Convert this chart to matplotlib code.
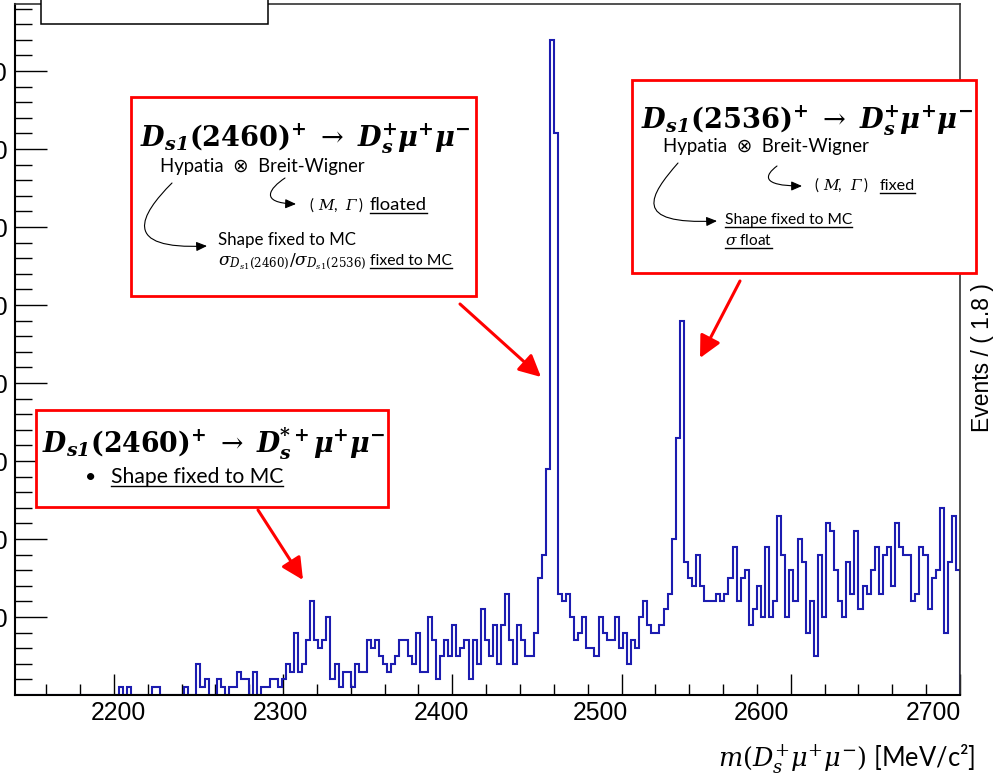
import numpy as np
import matplotlib
matplotlib.use("Agg")
import matplotlib.pyplot as plt
from matplotlib.patches import Rectangle, FancyArrowPatch
from matplotlib.lines import Line2D
from matplotlib.path import Path
from matplotlib.transforms import ScaledTranslation

W, H = 993, 778

plt.rcParams['mathtext.fontset'] = 'custom'
plt.rcParams['mathtext.rm'] = 'DejaVu Serif'
plt.rcParams['mathtext.it'] = 'DejaVu Serif:italic'
plt.rcParams['mathtext.bf'] = 'DejaVu Serif:italic:bold'
plt.rcParams['mathtext.sf'] = 'DejaVu Serif:bold'

# ---------------- data ----------------
bin_start = 2100.0
bin_width = 2.4
counts = [
    0, 0, 0, 0, 0, 0, 0, 0, 0, 0,
    0, 0, 0, 0, 0, 0, 0, 0, 0, 0,
    0, 0, 0, 0, 0, 0, 0, 0, 0, 0,
    0, 0, 0, 0, 0, 0, 0, 0, 0, 0,
    0, 0, 0, 1, 0, 1, 0, 0, 0, 0,
    0, 1, 1, 0, 0, 0, 0, 0, 0, 1,
    0, 0, 4, 1, 2, 0, 0, 2, 1, 0,
    1, 1, 3, 2, 2, 0, 3, 0, 1, 1,
    2, 2, 1, 2, 4, 3, 8, 3, 4, 7,
    12, 7, 6, 7, 10, 2, 4, 1, 3, 3,
    1, 4, 3, 3, 7, 6, 7, 5, 4, 3,
    4, 5, 7, 7, 5, 4, 8, 3, 3, 10,
    7, 2, 5, 7, 5, 9, 5, 6, 7, 2,
    7, 4, 11, 7, 5, 9, 4, 9, 13, 7,
    4, 9, 7, 5, 5, 8, 15, 18, 29, 84,
    72, 13, 12, 13, 10, 7, 8, 10, 6, 6,
    5, 10, 8, 7, 7, 10, 6, 8, 4, 7,
    6, 10, 12, 9, 8, 8, 9, 11, 13, 20,
    33, 48, 17, 15, 14, 18, 14, 12, 12, 12,
    13, 12, 13, 15, 19, 12, 15, 16, 9, 11,
    14, 10, 19, 10, 12, 23, 18, 10, 16, 12,
    20, 17, 8, 12, 5, 18, 10, 22, 21, 16,
    12, 10, 17, 13, 21, 11, 14, 13, 16, 19,
    13, 18, 19, 14, 22, 19, 18, 18, 12, 13,
    19, 18, 11, 15, 16, 24, 8, 17, 23, 16,
]
x_range = (2141.6, 2700.0)
y_range = (0.0, 88.6)
x_major = [2200, 2300, 2400, 2500, 2600, 2700]
x_labels = ["2200", "2300", "2400", "2500", "2600", "2700"]
y_major = [10, 20, 30, 40, 50, 60, 70, 80]
y_labels = ["10", "20", "30", "40", "50", "60", "70", "80"]
y_title = "Events / ( 1.8 )"
x_title = r"$m(D_s^{+}\mu^{+}\mu^{-})$ [MeV/c²]"

edges = bin_start + bin_width * np.arange(len(counts) + 1)

# ---------------- figure ----------------
fig = plt.figure(figsize=(W / 100, H / 100), dpi=100)
fig.patch.set_facecolor("white")

def fx(x):
    return x / W

def fy(y):
    return 1 - y / H

ax = fig.add_axes([fx(15), fy(695), (960 - 15) / W, (695 - 4) / H])
ax.stairs(counts, edges, color="#1c1cb0", linewidth=1.5, zorder=2)
ax.set_xlim(*x_range)
ax.set_ylim(*y_range)

ax.set_xticks(x_major)
ax.set_xticklabels([])
ax.set_xticks(np.arange(2160, 2701, 20), minor=True)
ax.set_yticks(y_major)
ax.set_yticklabels(y_labels, family="Liberation Sans", fontsize=17.8)
ax.set_yticks(np.arange(2, 89, 2), minor=True)

ax.tick_params(axis="x", which="major", direction="in", length=15, width=1.0, top=False)
ax.tick_params(axis="x", which="minor", direction="in", length=8, width=1.0, top=False)
ax.tick_params(axis="y", which="major", direction="in", length=23, width=1.0, right=False, pad=5)
ax.tick_params(axis="y", which="minor", direction="in", length=12, width=1.0, right=False)

for s in ["left", "bottom"]:
    ax.spines[s].set_linewidth(1.5)
    ax.spines[s].set_color("black")
for s in ["top", "right"]:
    ax.spines[s].set_linewidth(1.2)
    ax.spines[s].set_color("#333333")

# x tick labels (placed with their visual offsets)
label_dx = [5, -3, -11, -21, -29, -27]
for v, lab, dx in zip(x_major, x_labels, label_dx):
    ax.text(v, 0, lab, transform=ax.get_xaxis_transform()
            + ScaledTranslation(dx / 100, -6 / 100, fig.dpi_scale_trans),
            ha="center", va="top", family="Liberation Sans", fontsize=17.8)

fig.text(fx(983), fy(358), y_title, rotation=90, ha="center", va="center",
         family="Liberation Sans", fontsize=16.5)

renderer = fig.canvas.get_renderer()
BOX_FONT = ["Lato", "DejaVu Sans"]

def put(s, x, y, width=None, size=14, family=BOX_FONT, ha="left", **kw):
    t = fig.text(fx(x), fy(y), s, fontsize=size, ha=ha, va="baseline",
                 family=list(family), zorder=7, **kw)
    if width is not None:
        bb = t.get_window_extent(renderer)
        t.set_fontsize(size * width / bb.width)
    return t

def put_seq(pieces, x, y, size):
    """pieces: list of (text, family, style); placed one after another."""
    cur = x
    for s, fam, style in pieces:
        t = fig.text(fx(cur), fy(y), s, fontsize=size, ha="left", va="baseline",
                     family=fam, style=style, zorder=7)
        bb = t.get_window_extent(renderer)
        cur = bb.x1
    return cur

def underline(t, y, lw=1.0, off=3):
    bb = t.get_window_extent(renderer)
    fig.add_artist(Line2D([bb.x0 / W, bb.x1 / W], [fy(y + off)] * 2,
                          transform=fig.transFigure, color="black", lw=lw, zorder=7))

def box(x0, y0, x1, y1, ec="red", lw=2.0):
    fig.add_artist(Rectangle((fx(x0), fy(y1)), (x1 - x0) / W, (y1 - y0) / H,
                             transform=fig.transFigure, fc="white", ec=ec, lw=lw, zorder=5))

def red_arrow(x0, y0, x1, y1):
    fig.add_artist(FancyArrowPatch((fx(x0), fy(y0)), (fx(x1), fy(y1)),
                                   transform=fig.transFigure,
                                   arrowstyle="-|>,head_length=1.1,head_width=0.55",
                                   mutation_scale=12, color="red", lw=2.2,
                                   shrinkA=0, shrinkB=0, zorder=6))

def curve_arrow(pts):
    verts = [(fx(x), fy(y)) for x, y in pts]
    p = Path(verts, [Path.MOVETO, Path.CURVE4, Path.CURVE4, Path.CURVE4])
    fig.add_artist(FancyArrowPatch(path=p, transform=fig.transFigure,
                                   arrowstyle="-|>,head_length=0.8,head_width=0.35",
                                   mutation_scale=8, color="black", lw=0.8, zorder=7))

def mgamma(x, y, size):
    serif_it = ["DejaVu Serif"]
    return put_seq([("( ", BOX_FONT, "normal"), ("M", serif_it, "italic"),
                    (",  ", BOX_FONT, "normal"), ("Γ", serif_it, "italic"),
                    (" )", BOX_FONT, "normal")], x, y, size)

# legend box at top-left (cropped)
box(41, -10, 268, 24, ec="black", lw=1.1)

title_a = (r"$\mathbf{D}_{\mathbf{s1}}\mathsf{(2460)}^{\mathsf{+}}\ \rightarrow\ "
           r"\mathbf{D}_{\mathbf{s}}^{\mathbf{+}}\mathbf{\mu}^{\mathbf{+}}\mathbf{\mu}^{\mathbf{-}}$")
title_b = (r"$\mathbf{D}_{\mathbf{s1}}\mathsf{(2536)}^{\mathsf{+}}\ \rightarrow\ "
           r"\mathbf{D}_{\mathbf{s}}^{\mathbf{+}}\mathbf{\mu}^{\mathbf{+}}\mathbf{\mu}^{\mathbf{-}}$")
title_c = (r"$\mathbf{D}_{\mathbf{s1}}\mathsf{(2460)}^{\mathsf{+}}\ \rightarrow\ "
           r"\mathbf{D}_{\mathbf{s}}^{\mathbf{*+}}\mathbf{\mu}^{\mathbf{+}}\mathbf{\mu}^{\mathbf{-}}$")
conv = "Hypatia  ⊗  Breit-Wigner"

# box 1
box(131, 97, 476, 296)
put(title_a, 140, 146, width=330, size=20)
put(conv, 160, 172, width=204, size=12)
mgamma(310, 210, 11)
t = put("floated", 370, 210, width=57, size=12)
underline(t, 210)
put("Shape fixed to MC", 218, 245, width=137, size=12)
put(r"$\sigma_{D_{s1}(2460)}/\sigma_{D_{s1}(2536)}$", 218, 265, width=148, size=11)
t = put("fixed to MC", 370, 265, width=82, size=12)
underline(t, 265)
curve_arrow([(172, 183), (140, 215), (120, 250), (207, 246)])
curve_arrow([(285, 178), (270, 188), (258, 203), (296, 204)])

# box 2
box(632, 80, 976, 273)
put(title_b, 641, 128, width=331, size=20)
put(conv, 663, 152, width=205, size=12)
mgamma(815, 190, 11)
t = put("fixed", 880, 190, width=35, size=12)
underline(t, 190)
t = put("Shape fixed to MC", 725, 224, width=127, size=12)
underline(t, 224)
t = put(r"$\sigma$ float", 725, 245, width=47, size=12)
underline(t, 245)
curve_arrow([(678, 163), (650, 195), (630, 225), (717, 221)])
curve_arrow([(777, 166), (765, 175), (760, 186), (802, 186)])

# box 3
box(36, 410, 388, 507)
put(title_c, 42, 452, width=343, size=20)
put("•", 85, 483, size=14)
t = put("Shape fixed to MC", 111, 483, width=173, size=14)
underline(t, 483)

# red arrows
red_arrow(460, 304, 541, 377)
red_arrow(740, 281, 700, 358)
red_arrow(258, 510, 303, 580)

# x-axis title
put(x_title, 975, 766, width=257, size=18, ha="right")

fig.savefig("out.png", dpi=100, facecolor="white")
